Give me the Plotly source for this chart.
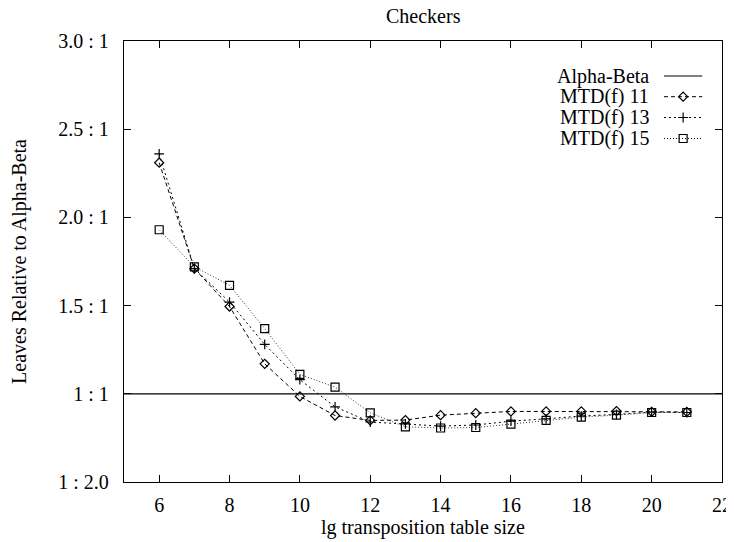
import plotly.graph_objects as go

# ---- data ----
table_size = [6, 7, 8, 9, 10, 11, 12, 13, 14, 15, 16, 17, 18, 19, 20, 21]
mtd11 = [2.31, 1.71, 1.495, 1.17, 0.985, 0.877, 0.849, 0.851, 0.879, 0.89, 0.90, 0.90, 0.90, 0.902, 0.898, 0.897]
mtd13 = [2.36, 1.71, 1.52, 1.28, 1.08, 0.926, 0.84, 0.83, 0.817, 0.823, 0.845, 0.858, 0.874, 0.883, 0.896, 0.894]
mtd15 = [1.93, 1.72, 1.615, 1.37, 1.11, 1.038, 0.892, 0.813, 0.806, 0.809, 0.828, 0.849, 0.868, 0.879, 0.894, 0.894]
ab_x = [5, 22]
ab_y = [1, 1]

y_tickvals = [0.5, 1.0, 1.5, 2.0, 2.5, 3.0]
y_ticktext = ["1 : 2.0", "1 : 1", "1.5 : 1", "2.0 : 1", "2.5 : 1", "3.0 : 1"]
x_tickvals = [6, 8, 10, 12, 14, 16, 18, 20, 22]

legend_names = ["Alpha-Beta", "MTD(f) 11", "MTD(f) 13", "MTD(f) 15"]

FONT = "Liberation Serif"
FS = 20
BLACK = "#000000"

styles = [
    dict(dash="solid", symbol=None, size=0),
    dict(dash="4px,3px", symbol="diamond-open", size=7),
    dict(dash="2px,3px", symbol="cross-thin-open", size=7),
    dict(dash="1px,2px", symbol="square-open", size=8),
]

fig = go.Figure()

fig.add_trace(go.Scatter(x=ab_x, y=ab_y, mode="lines", line=dict(color=BLACK, width=1.3),
                         showlegend=False, hoverinfo="skip"))
for series, st, col in [(mtd11, styles[1], BLACK), (mtd13, styles[2], BLACK), (mtd15, styles[3], "#333333")]:
    fig.add_trace(go.Scatter(
        x=table_size, y=series, mode="lines+markers",
        line=dict(color=col, width=1, dash=st["dash"]),
        marker=dict(symbol=st["symbol"], size=st["size"], color=BLACK,
                    line=dict(color=BLACK, width=1.2)),
        showlegend=False))

# ---- custom gnuplot-style key (text then sample) on an overlay axis ----
key_rows = [0.9206, 0.8737, 0.8265, 0.7789]
for i, (name, st) in enumerate(zip(legend_names, styles)):
    yk = key_rows[i]
    fig.add_trace(go.Scatter(
        x=[0.903, 0.967], y=[yk, yk], xaxis="x2", yaxis="y2", mode="lines",
        line=dict(color=BLACK, width=1.2 if i == 0 else 1, dash=st["dash"]),
        showlegend=False, hoverinfo="skip"))
    if st["symbol"]:
        fig.add_trace(go.Scatter(
            x=[0.935], y=[yk], xaxis="x2", yaxis="y2", mode="markers",
            marker=dict(symbol=st["symbol"], size=st["size"], color=BLACK,
                        line=dict(color=BLACK, width=1.2)),
            showlegend=False, hoverinfo="skip"))
    fig.add_annotation(x=0.881, y=yk, xref="paper", yref="paper", text=name,
                       showarrow=False, xanchor="right", yanchor="middle",
                       font=dict(family=FONT, size=FS, color=BLACK))

fig.add_annotation(x=0.5, y=1, xref="paper", yref="paper", yshift=25, text="Checkers",
                   showarrow=False, xanchor="center", yanchor="middle", borderpad=0,
                   font=dict(family=FONT, size=FS, color=BLACK))
fig.add_annotation(x=0.5, y=0, xref="paper", yref="paper", yshift=-45,
                   text="lg transposition table size",
                   showarrow=False, xanchor="center", yanchor="middle",
                   font=dict(family=FONT, size=FS, color=BLACK))

# The page body adds an 8px offset, so the figure is 8px smaller than the window.
fig.update_layout(
    width=726, height=534,
    margin=dict(l=116, r=12, t=33, b=60),
    paper_bgcolor="white", plot_bgcolor="white",
    font=dict(family=FONT, size=FS, color=BLACK),
    xaxis=dict(range=[5, 22], tickvals=x_tickvals, ticks="inside", ticklen=7,
               tickcolor=BLACK, tickwidth=1, showline=True, linecolor=BLACK,
               linewidth=1.3, mirror="ticks", showgrid=False, zeroline=False,
               automargin=False,
               ticklabelstandoff=5, tickfont=dict(family=FONT, size=FS)),
    yaxis=dict(range=[0.5, 3.0], tickvals=y_tickvals, ticktext=y_ticktext,
               ticks="inside", ticklen=7, tickcolor=BLACK, tickwidth=1,
               showline=True, linecolor=BLACK, linewidth=1.3, mirror="ticks",
               showgrid=False, zeroline=False, ticklabelstandoff=10,
               automargin=False,
               tickfont=dict(family=FONT, size=FS),
               title=dict(text="Leaves Relative to Alpha-Beta", standoff=27,
                          font=dict(family=FONT, size=FS))),
    xaxis2=dict(range=[0, 1], overlaying="x", visible=False, fixedrange=True),
    yaxis2=dict(range=[0, 1], overlaying="y", visible=False, fixedrange=True),
    showlegend=False,
)

fig.write_html("out.html")
